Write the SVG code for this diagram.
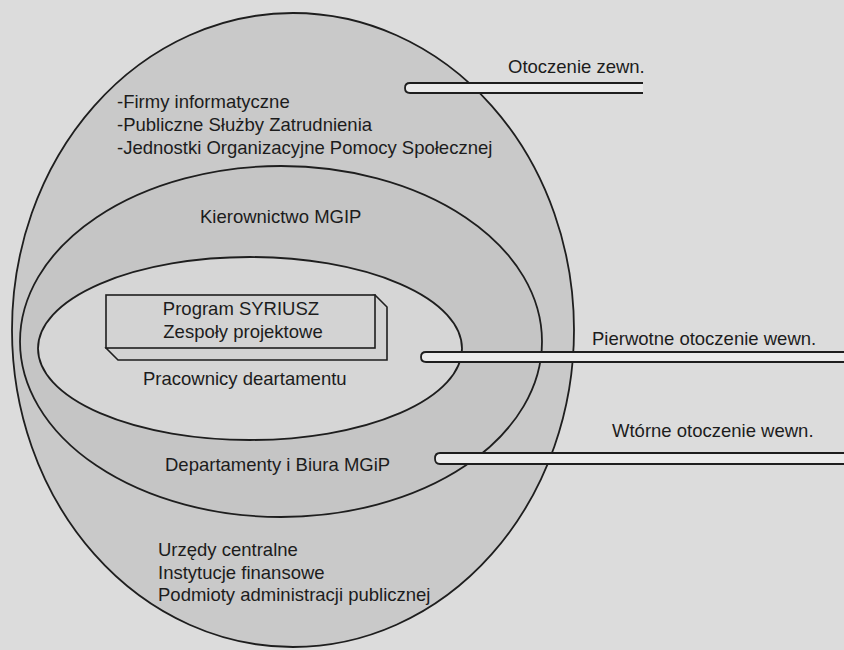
<svg xmlns="http://www.w3.org/2000/svg" width="844" height="650" viewBox="0 0 844 650">
<style>
  .ring { stroke: #1e1e1e; stroke-width: 1.8; }
  .t { font-family: "Liberation Sans", Arial, sans-serif; font-size: 18.5px; fill: #1c1c1c; }
  .arrow { fill: #ebebeb; stroke: #1e1e1e; stroke-width: 1.8; stroke-linejoin: round; }
  .box { fill: #d3d3d3; stroke: #1e1e1e; stroke-width: 1.6; }
</style>
<rect x="0" y="0" width="844" height="650" fill="#dcdcdc"/>

<g id="otoczenie-zewnetrzne">
  <ellipse class="ring" cx="293" cy="330" rx="281" ry="317" fill="#c9c9c9"/>
  <text class="t" x="117" y="108">-Firmy informatyczne</text>
  <text class="t" x="117" y="131">-Publiczne Służby Zatrudnienia</text>
  <text class="t" x="117" y="154">-Jednostki Organizacyjne Pomocy Społecznej</text>
  <text class="t" x="158" y="556">Urzędy centralne</text>
  <text class="t" x="158" y="579">Instytucje finansowe</text>
  <text class="t" x="158" y="601">Podmioty administracji publicznej</text>
</g>

<g id="otoczenie-wtorne">
  <ellipse class="ring" cx="281" cy="341.5" rx="261" ry="175.5" fill="#c5c5c5"/>
  <text class="t" x="200" y="223">Kierownictwo MGIP</text>
  <text class="t" x="165" y="471">Departamenty i Biura MGiP</text>
</g>

<g id="otoczenie-pierwotne">
  <ellipse class="ring" cx="250" cy="348.5" rx="212" ry="91.5" fill="#d6d6d6"/>
  <text class="t" x="143" y="385">Pracownicy deartamentu</text>
</g>

<g id="program-syriusz">
  <path class="box" d="M375 295 L387 307 L387 360 L118 360 L106 348 Z"/>
  <rect class="box" x="106" y="295" width="269" height="53"/>
  <text class="t" x="241" y="315" text-anchor="middle">Program SYRIUSZ</text>
  <text class="t" x="243" y="338" text-anchor="middle">Zespoły projektowe</text>
</g>

<g id="connectors">
  <path class="arrow" d="M643 83 L410 83 Q405 83 405 88 Q405 93 410 93 L643 93"/>
  <path class="arrow" d="M846 352 L426 352 Q421 352 421 357 Q421 362 426 362 L846 362"/>
  <path class="arrow" d="M846 453 L440 453 Q435 453 435 458.5 Q435 464 440 464 L846 464"/>
</g>

<g id="labels">
  <text class="t" x="508" y="73">Otoczenie zewn.</text>
  <text class="t" x="592" y="345">Pierwotne otoczenie wewn.</text>
  <text class="t" x="612" y="437">Wtórne otoczenie wewn.</text>
</g>
</svg>
